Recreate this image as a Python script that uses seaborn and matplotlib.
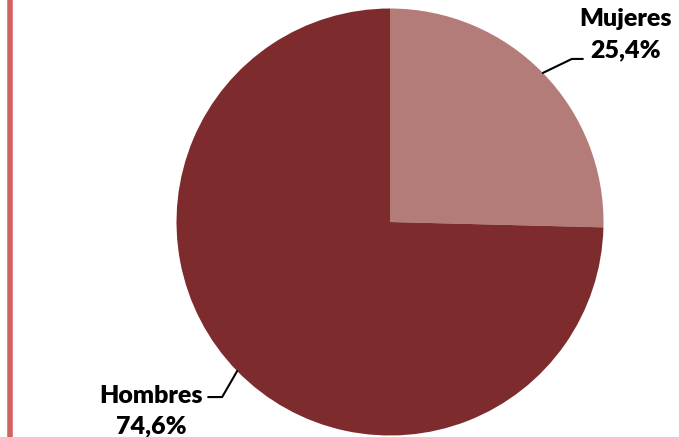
import numpy as np
import matplotlib
matplotlib.use('Agg')
import matplotlib.pyplot as plt
import seaborn as sns

# Data
labels = ['Mujeres', 'Hombres']
shares = [25.4, 74.6]
colors = ['#B47C79', '#7D2B2D']

sns.set_theme(style='white')
plt.rcParams['font.family'] = ['Lato', 'DejaVu Sans']

W, H = 679, 437
fig = plt.figure(figsize=(W / 100, H / 100), dpi=100)
ax = fig.add_axes([0, 0, 1, 1])

cx, cy, r = 390, 215, 213.5
wedges, _ = ax.pie(shares, colors=colors, startangle=90, counterclock=False,
                   center=(cx, cy), radius=r, wedgeprops=dict(linewidth=0))

ax.set_xlim(0, W)
ax.set_ylim(0, H)
ax.set_aspect('equal')
ax.axis('off')

# red frame line on the left
ax.plot([9.5, 9.5], [0, H], color='#D06262', lw=4, solid_capstyle='butt')

# leader lines and labels, anchored at the middle of each wedge
offsets = {
    'Mujeres': dict(elbow=(29, 14), end=(40, 14), text=(83, 38)),
    'Hombres': dict(elbow=(-15, -26), end=(-29, -26), text=(-86, -40)),
}
for w, lab, val in zip(wedges, labels, shares):
    ang = np.deg2rad((w.theta1 + w.theta2) / 2)
    ax_, ay_ = cx + r * np.cos(ang), cy + r * np.sin(ang)
    o = offsets[lab]
    xs = [ax_, ax_ + o['elbow'][0], ax_ + o['end'][0]]
    ys = [ay_, ay_ + o['elbow'][1], ay_ + o['end'][1]]
    ax.plot(xs, ys, color='black', lw=1.5)
    txt = f"{lab}\n{val:.1f}%".replace('.', ',')
    ax.text(ax_ + o['text'][0], ay_ + o['text'][1], txt, ha='center', va='center',
            fontsize=18, fontweight='heavy', linespacing=1.5, color='black')

fig.savefig('out.png', dpi=100)
